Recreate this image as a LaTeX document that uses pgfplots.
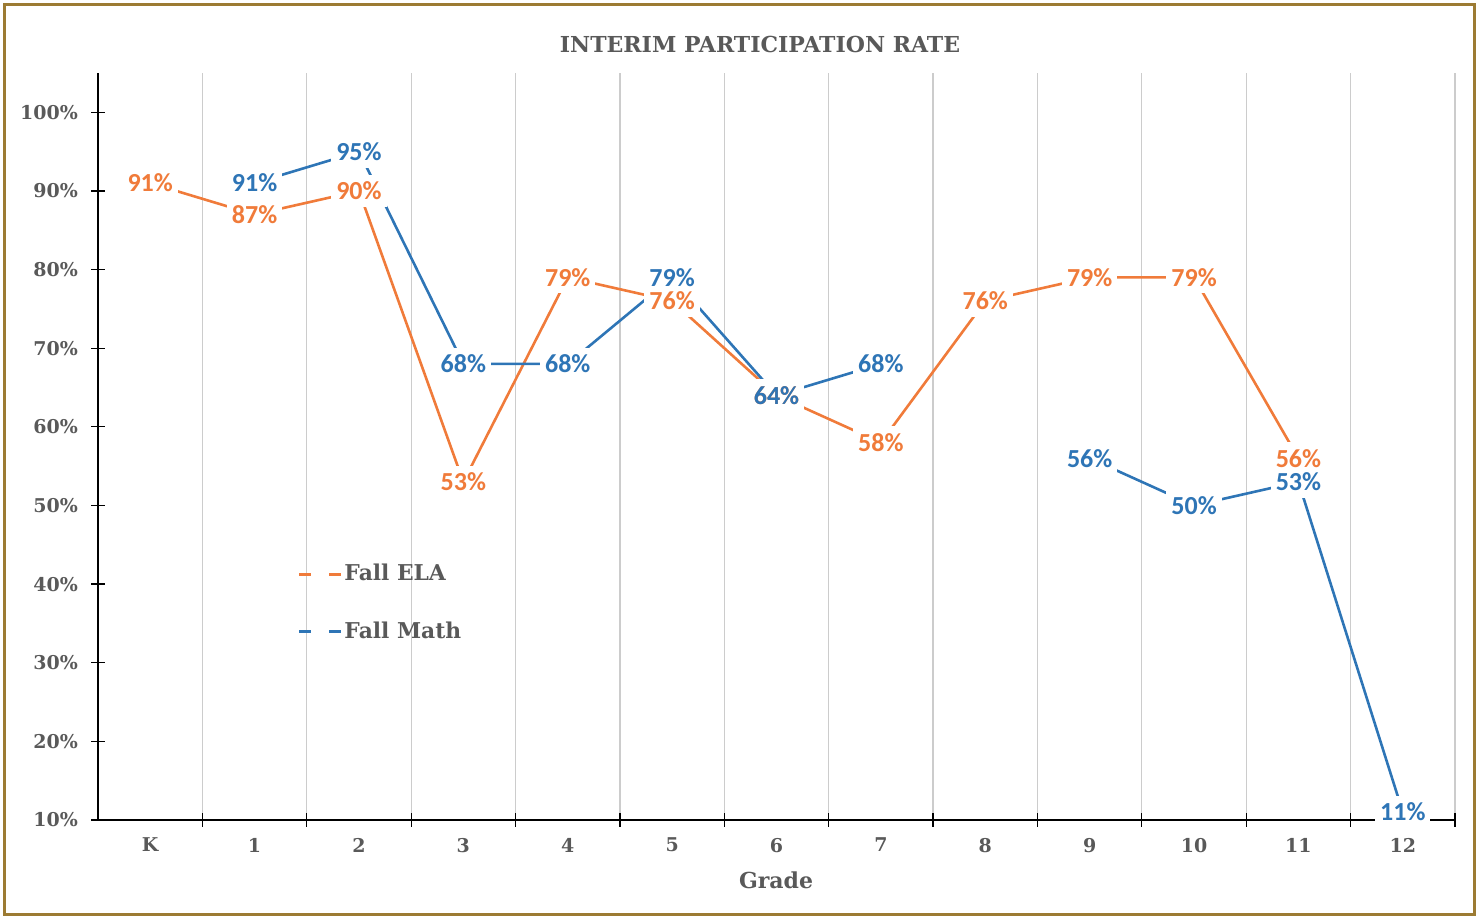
\documentclass[border=0pt]{standalone}
\usepackage{fontspec}
\setmainfont{DejaVu Serif}
\newfontfamily\lblfont{Carlito}
\usepackage{pgfplots}
\pgfplotsset{compat=1.18}
\definecolor{ela}{HTML}{F07B3A}
\definecolor{mth}{HTML}{2E75B6}
\definecolor{txt}{HTML}{595959}
\definecolor{frame}{HTML}{9C7B33}
\pgfplotsset{
  lbl/.style={draw=none, forget plot, point meta=y,
    nodes near coords={\pgfmathprintnumber[fixed,precision=0]{\pgfplotspointmeta}\%},
    every node near coord/.append style={anchor=center, inner xsep=2.5pt, inner ysep=3.5pt,
      font=\lblfont\bfseries\fontsize{13}{13}\selectfont, text=#1}},
  lblfill/.style={lbl=white, every node near coord/.append style={fill=white}},
}
\pgfplotstableread{
x y
0 91
1 87
2 90
3 53
4 79
5 76
6 64
7 58
8 76
9 79
10 79
11 56
}\ela
\pgfplotstableread{
x y
1 91
2 95
3 68
4 68
5 79
6 64
7 68
8 nan
9 56
10 50
11 53
12 11
}\mth
\begin{document}
\begin{tikzpicture}[x=1pt,y=1pt]
\path (-49,-49.5) rectangle (689.5,410);
\begin{axis}[
  at={(0,0)}, anchor=south west,
  width=678.5pt, height=373.5pt, scale only axis,
  xmin=-0.5, xmax=12.5, ymin=10, ymax=105,
  axis x line=bottom, axis y line=left,
  axis line style={-, black, line width=0.8pt},
  xtick={0,...,12},
  xticklabels={K,1,2,3,4,5,6,7,8,9,10,11,12},
  major x tick style={draw=none},
  minor xtick={0.5,1.5,...,12.5},
  xminorgrids=true,
  minor grid style={draw=black!20, line width=0.6pt},
  minor x tick style={black, line width=0.6pt},
  minor tick length=7pt,
  ytick={10,20,...,100},
  yticklabel={\pgfmathprintnumber{\tick}\%},
  /pgf/number format/assume math mode=true,
  major tick length=7pt,
  tick align=center,
  y tick style={black, line width=0.6pt},
  ticklabel style={font=\bfseries\fontsize{9.5}{10}\selectfont, text=txt},
  xticklabel style={yshift=-2pt},
  yticklabel style={xshift=-3pt},
  unbounded coords=jump,
  clip=false,
  legend style={at={(0.147,0.348)}, anchor=north west, draw=none, fill=none,
    font=\bfseries\fontsize{10.9}{12}\selectfont, text=txt, row sep=15pt,
    inner sep=0pt, nodes={inner xsep=1pt}},
  legend cell align=left,
  legend image code/.code={\draw[#1, dash pattern=on 6pt off 9pt] (0pt,0pt) -- (21pt,0pt);},
]
\addplot[ela, line width=1.3pt] table[x=x,y=y] {\ela};
\addlegendentry{Fall ELA}
\addplot[mth, line width=1.3pt] table[x=x,y=y] {\mth};
\addlegendentry{Fall Math}
% label backgrounds (break the lines around the labels)
\addplot[lblfill] table[x=x,y=y] {\ela};
\addplot[lblfill] table[x=x,y=y] {\mth};
% label texts
\addplot[lbl=ela] table[x=x,y=y] {\ela};
\addplot[lbl=mth] table[x=x,y=y] {\mth};
\end{axis}
\node[font=\bfseries\fontsize{11}{12}\selectfont, text=txt] at (331,387.5) {INTERIM PARTICIPATION RATE};
\node[font=\bfseries\fontsize{11}{12}\selectfont, text=txt] at (339,-30) {Grade};
\draw[frame, line width=1.5pt] (-46.5,-47.5) rectangle (688,407.5);
\end{tikzpicture}
\end{document}
